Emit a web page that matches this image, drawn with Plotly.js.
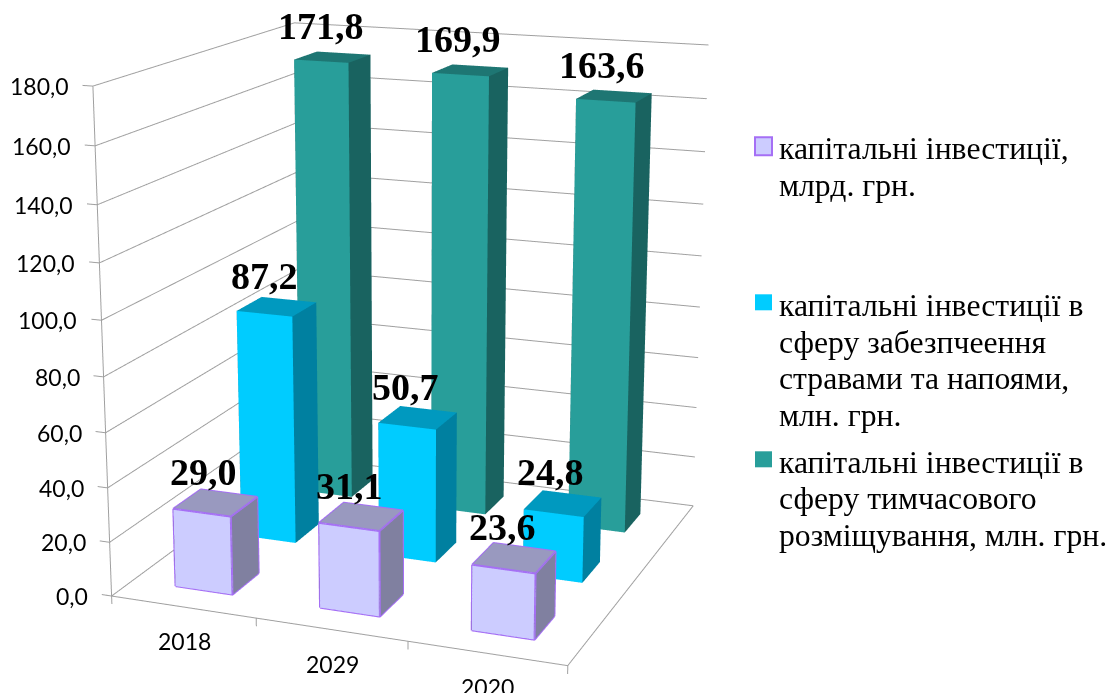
<!DOCTYPE html>
<html><head><meta charset="utf-8">
<script src="https://cdn.plot.ly/plotly-3.0.1.min.js"></script>
<style>html,body{margin:0;padding:0;background:#fff;overflow:hidden;width:1119px;height:693px}
#chart{position:absolute}</style></head>
<body><div id="chart"></div>
<script>
const years = ['2018', '2029', '2020'];
const capital = [29.0, 31.1, 23.6];
const food = [87.2, 50.7, 24.8];
const lodging = [171.8, 169.9, 163.6];
const capitalLabels = ['29,0', '31,1', '23,6'];
const foodLabels = ['87,2', '50,7', '24,8'];
const lodgingLabels = ['171,8', '169,9', '163,6'];
const zTicks = [0, 20, 40, 60, 80, 100, 120, 140, 160, 180];
const zTickText = ['0,0', '20,0', '40,0', '60,0', '80,0', '100,0', '120,0', '140,0', '160,0', '180,0'];
const xBoundaries = [-0.5, 0.5, 1.5, 2.5];
const legendLines = [
  ['капітальні інвестиції,', 'млрд. грн.'],
  ['капітальні інвестиції в', 'сферу забезпчеення', 'стравами та напоями,', 'млн. грн.'],
  ['капітальні інвестиції в', 'сферу тимчасового', 'розміщування, млн. грн.']
];
// front, top and side face colours of each series
const faceColors = [
  ['#ccccff', '#9999bf', '#8080a0'],
  ['#00ccff', '#0099bf', '#0080a0'],
  ['#289e9a', '#1e7673', '#196360']
];
const EDGE = '#a56ff5', GRID = '#a0a0a0';

// The plot area is larger than the window so the 3D view gets a long lens.
const SIZE = 1900, centerX = 415, centerY = 312.7;
const left = centerX - SIZE / 2, top_ = centerY - SIZE / 2;
const box = document.getElementById('chart');
box.style.cssText = `left:${left}px;top:${top_}px;width:${SIZE}px;height:${SIZE}px`;
const paperX = px => (px - left) / SIZE;
const paperY = py => 1 - (py - top_) / SIZE;

const HALF = 0.2;
const X_MIN = -0.5, X_MAX = 2.5, Y_MIN = -0.5, Y_MAX = 2.5, Z_MAX = 180;
const X_TICK = 0.07, Z_TICK = 3;
// the axis box is a little larger than the walls so their lines are not clipped
const PAD = 0.03, Z_PAD = 3;

function barMesh(xc, yc, v, c) {
  const x0 = xc - HALF, x1 = xc + HALF, y0 = yc - HALF, y1 = yc + HALF;
  return {
    type: 'mesh3d',
    x: [x0, x1, x1, x0, x0, x1, x1, x0],
    y: [y0, y0, y1, y1, y0, y0, y1, y1],
    z: [0, 0, 0, 0, v, v, v, v],
    i: [0, 0, 4, 4, 0, 0, 1, 1, 2, 2, 3, 3],
    j: [1, 2, 5, 6, 1, 5, 2, 6, 3, 7, 0, 4],
    k: [2, 3, 6, 7, 5, 4, 6, 5, 7, 6, 4, 7],
    facecolor: [c[2], c[2], c[1], c[1], c[0], c[0], c[2], c[2], c[2], c[2], c[2], c[2]],
    flatshading: true,
    lighting: {ambient: 1, diffuse: 0, specular: 0, roughness: 1, fresnel: 0},
    hoverinfo: 'skip', showscale: false
  };
}
function polyline(pts, color, width) {
  return {
    type: 'scatter3d', mode: 'lines', hoverinfo: 'skip', showlegend: false,
    x: pts.map(p => p ? p[0] : null), y: pts.map(p => p ? p[1] : null), z: pts.map(p => p ? p[2] : null),
    line: {color, width}
  };
}
function barEdges(xc, yc, v) {
  const x0 = xc - HALF, x1 = xc + HALF, y0 = yc - HALF, y1 = yc + HALF;
  return polyline([
    [x0,y0,0],[x1,y0,0],[x1,y1,0],null,[x0,y0,v],[x1,y0,v],[x1,y1,v],[x0,y1,v],[x0,y0,v],null,
    [x0,y0,0],[x0,y0,v],null,[x1,y0,0],[x1,y0,v],null,[x1,y1,0],[x1,y1,v]
  ], EDGE, 4);
}

const allSeries = [capital, food, lodging];
const allLabels = [capitalLabels, foodLabels, lodgingLabels];
const data = [];

// wall grid, axis lines and tick marks
const frame = [];
zTicks.forEach(t => frame.push([X_MIN, Y_MIN, t], [X_MIN, Y_MAX, t], [X_MAX, Y_MAX, t], null));
zTicks.forEach(t => frame.push([X_MIN - X_TICK, Y_MIN, t], [X_MIN, Y_MIN, t], null));
xBoundaries.forEach(b => frame.push([b, Y_MIN, 0], [b, Y_MIN, -Z_TICK], null));
frame.push([X_MIN, Y_MIN, -Z_TICK], [X_MIN, Y_MIN, Z_MAX], null);
frame.push([X_MIN, Y_MIN, 0], [X_MAX, Y_MIN, 0], [X_MAX, Y_MAX, 0]);
data.push(polyline(frame, GRID, 2));

allSeries.forEach((s, si) => s.forEach((v, xi) => {
  data.push(barMesh(xi, si, v, faceColors[si]));
  if (si === 0) data.push(barEdges(xi, si, v));
}));

const sceneNotes = [];
allSeries.forEach((s, si) => s.forEach((v, xi) => sceneNotes.push({
  x: xi, y: si, z: v, text: '<b>' + allLabels[si][xi] + '</b>', showarrow: false,
  xshift: -12, yshift: 31, yanchor: 'middle', font: {family: 'Liberation Serif', size: 38, color: '#000'}
})));
zTicks.forEach((t, i) => sceneNotes.push({
  x: X_MIN, y: Y_MIN, z: t, text: zTickText[i], showarrow: false, xanchor: 'right', yanchor: 'middle',
  xshift: -22, font: {family: 'Lato', size: 23, color: '#000'}
}));
years.forEach((y, i) => sceneNotes.push({
  x: i, y: Y_MIN, z: 0, text: y, showarrow: false, yanchor: 'middle',
  xshift: 1, yshift: -34, font: {family: 'Lato', size: 23, color: '#000'}
}));

// legend
const annotations = [], shapes = [];
const lineYs = [[148, 185], [305, 342, 378, 415], [462, 498, 535]];
const swatchYs = [[137, 155], [294, 310], [451, 467]];
legendLines.forEach((lines, i) => {
  lines.forEach((text, j) => annotations.push({
    xref: 'paper', yref: 'paper', x: paperX(777), y: paperY(lineYs[i][j]), text,
    showarrow: false, xanchor: 'left', yanchor: 'middle',
    font: {family: 'Liberation Serif', size: 31.7, color: '#000'}
  }));
  shapes.push({
    type: 'rect', xref: 'paper', yref: 'paper',
    x0: paperX(755), x1: paperX(772), y0: paperY(swatchYs[i][0]), y1: paperY(swatchYs[i][1]),
    fillcolor: faceColors[i][0], line: {color: i === 0 ? EDGE : faceColors[i][0], width: i === 0 ? 2 : 0}
  });
});

const axisBase = {title: {text: ''}, showbackground: false, showspikes: false, showticklabels: false,
  zeroline: false, showgrid: false, showline: false, ticks: ''};
const layout = {
  width: SIZE, height: SIZE, margin: {l: 0, r: 0, t: 0, b: 0, pad: 0}, paper_bgcolor: '#fff', showlegend: false,
  annotations, shapes,
  scene: {
    domain: {x: [0, 1], y: [0, 1]}, hovermode: false, dragmode: false,
    aspectmode: 'manual', aspectratio: {x: 1.054, y: 1.02, z: 1.1367},
    camera: {eye: {x: 1.745, y: -4.545, z: 1.304}, center: {x: 0, y: 0, z: 0}, up: {x: 0, y: 0, z: 1}},
    annotations: sceneNotes,
    xaxis: Object.assign({}, axisBase, {range: [X_MIN - X_TICK, X_MAX + PAD]}),
    yaxis: Object.assign({}, axisBase, {range: [Y_MIN - PAD, Y_MAX + PAD]}),
    zaxis: Object.assign({}, axisBase, {range: [-Z_TICK, Z_MAX + Z_PAD]})
  }
};
Plotly.newPlot('chart', data, layout, {displayModeBar: false});
</script></body></html>
